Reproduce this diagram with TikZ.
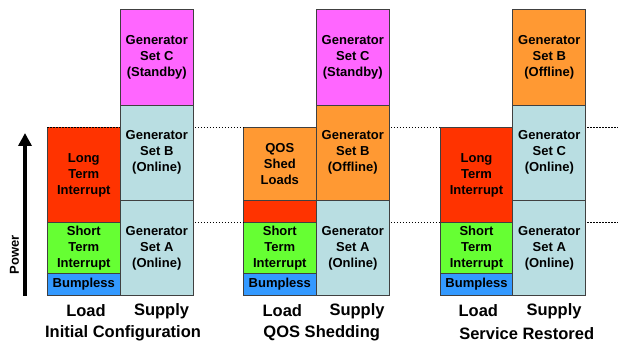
\documentclass[tikz,border=0pt]{standalone}
\usepackage{fontspec}
\setmainfont{Liberation Sans}
\usetikzlibrary{arrows.meta}
\definecolor{lblue}{RGB}{185,222,226}
\definecolor{magentab}{RGB}{255,102,255}
\definecolor{redb}{RGB}{255,51,0}
\definecolor{greenb}{RGB}{102,255,51}
\definecolor{blueb}{RGB}{51,153,255}
\definecolor{orangeb}{RGB}{255,153,51}
\definecolor{edge}{RGB}{64,64,64}
\tikzset{
  blk/.style={draw=edge, line width=0.8pt, anchor=north west, minimum width=73pt, inner sep=0pt, outer sep=0pt,
    align=center, font=\bfseries\fontsize{13}{16}\selectfont},
  dotline/.style={line width=1.4pt, dash pattern=on 1.4pt off 1.6pt, black},
  lbl/.style={font=\bfseries\fontsize{16.5}{18}\selectfont, inner sep=0pt},
}
\begin{document}
\begin{tikzpicture}[x=1pt,y=-1pt]
\useasboundingbox (0,0) rectangle (618,344);
% Panel 1
\node[blk, fill=redb, draw=none, minimum height=95.4pt] (l1L) at (47.3,127.3) {Long\\Term\\Interrupt};
\draw[edge, line width=0.8pt] (l1L.north west) -- (l1L.south west) -- (l1L.south east) -- (l1L.north east);
\node[blk, fill=greenb, minimum height=50.6pt] (l1S) at (47.3,222.7) {Short\\Term\\Interrupt};
\node[blk, fill=blueb, minimum height=22.4pt] (l1B) at (47.3,273.3) {Bumpless};
\node[blk, fill=magentab, minimum height=95.7pt] (s1C) at (120.3,9.3) {Generator\\Set C\\(Standby)};
\node[blk, fill=lblue, minimum height=95.3pt] (s1B) at (120.3,105) {Generator\\Set B\\(Online)};
\node[blk, fill=lblue, minimum height=95.4pt] (s1A) at (120.3,200.3) {Generator\\Set A\\(Online)};
% Panel 2
\node[blk, fill=orangeb, minimum height=73pt] (l2Q) at (243.3,127.3) {QOS\\Shed\\Loads};
\node[blk, fill=redb, minimum height=22.4pt] (l2L) at (243.3,200.3) {};
\node[blk, fill=greenb, minimum height=50.6pt] (l2S) at (243.3,222.7) {Short\\Term\\Interrupt};
\node[blk, fill=blueb, minimum height=22.4pt] (l2B) at (243.3,273.3) {Bumpless};
\node[blk, fill=magentab, minimum height=95.7pt] (s2C) at (316.3,9.3) {Generator\\Set C\\(Standby)};
\node[blk, fill=orangeb, minimum height=95.3pt] (s2B) at (316.3,105) {Generator\\Set B\\(Offline)};
\node[blk, fill=lblue, minimum height=95.4pt] (s2A) at (316.3,200.3) {Generator\\Set A\\(Online)};
% Panel 3
\node[blk, fill=redb, minimum height=95.4pt] (l3L) at (440,127.3) {Long\\Term\\Interrupt};
\node[blk, fill=greenb, minimum height=50.6pt] (l3S) at (440,222.7) {Short\\Term\\Interrupt};
\node[blk, fill=blueb, minimum height=22.4pt] (l3B) at (440,273.3) {Bumpless};
\node[blk, fill=orangeb, minimum height=95.7pt] (s3B) at (512.8,9.3) {Generator\\Set B\\(Offline)};
\node[blk, fill=lblue, minimum height=95.3pt] (s3C) at (512.8,105) {Generator\\Set C\\(Online)};
\node[blk, fill=lblue, minimum height=95.4pt] (s3A) at (512.8,200.3) {Generator\\Set A\\(Online)};
% Dotted levels
\coordinate (e1) at (618,127.3);
\coordinate (e2) at (618,222.7);
\draw[dotline] (l1L.north west) -- (l1L.north east);
\draw[dotline] ([xshift=1.5pt]s1B.east |- l2Q.north west) -- (l2Q.north west);
\draw[dotline] ([xshift=1.5pt]s2B.east |- l3L.north west) -- (l3L.north west);
\draw[dotline] ([xshift=1.5pt]s3C.east |- e1) -- (e1);
\draw[dotline] ([xshift=1.5pt]s1A.east |- l2S.north west) -- (l2S.north west);
\draw[dotline] ([xshift=1.5pt]s2A.east |- l3S.north west) -- (l3S.north west);
\draw[dotline] ([xshift=1.5pt]s3A.east |- e2) -- (e2);
% Power arrow
\coordinate (abot) at (25,296);
\coordinate (atop) at (25,133);
\draw[line width=4pt, -{Triangle[length=13pt,width=13pt]}] (abot) -- (atop);
\node[rotate=90, font=\bfseries\fontsize{13}{15}\selectfont, inner sep=0pt] (pw) at (14.5,255) {Power};
% Labels
\node[lbl] (ld1) at (86,311) {Load};
\node[lbl] (sp1) at (161.5,311) {Supply};
\node[lbl] (t1) at (123,333.5) {Initial Configuration};
\node[lbl] (ld2) at (282.3,311) {Load};
\node[lbl] (sp2) at (357,311) {Supply};
\node[lbl] (t2) at (321.7,333.5) {QOS Shedding};
\node[lbl] (ld3) at (478.3,311) {Load};
\node[lbl] (sp3) at (554,311) {Supply};
\node[lbl] (t3) at (526.7,333.5) {Service Restored};
\end{tikzpicture}
\end{document}
